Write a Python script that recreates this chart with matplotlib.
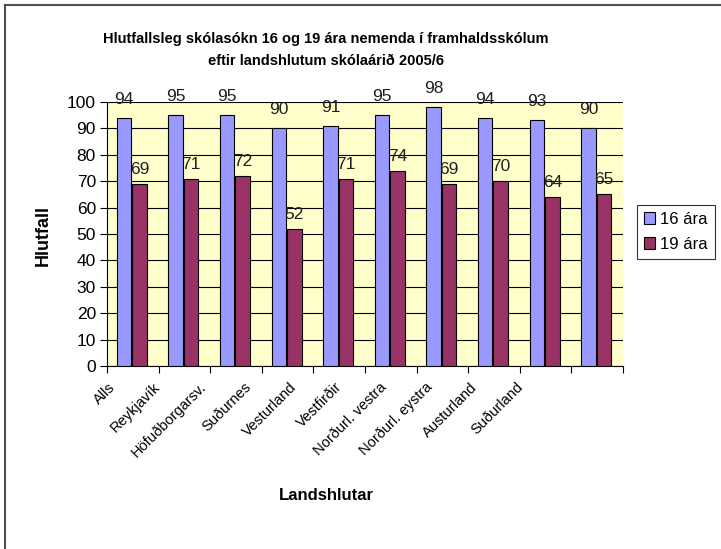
import numpy as np
import matplotlib
matplotlib.use("Agg")
import matplotlib.pyplot as plt
import matplotlib.transforms as mtransforms
from matplotlib.lines import Line2D

regions = ["Alls", "Reykjavík", "Höfuðborgarsv.", "Suðurnes", "Vesturland",
           "Vestfirðir", "Norðurl. vestra", "Norðurl. eystra", "Austurland", "Suðurland"]
age16 = [94, 95, 95, 90, 91, 95, 98, 94, 93, 90]
age19 = [69, 71, 72, 52, 71, 74, 69, 70, 64, 65]
series_names = ["16 ára", "19 ára"]
y_ticks = list(range(0, 101, 10))

plt.rcParams['font.family'] = ['Liberation Sans', 'DejaVu Sans']
narrow = ['Liberation Sans Narrow', 'Liberation Sans']

W, H = 721, 549
fig = plt.figure(figsize=(W / 100, H / 100), dpi=100)
fig.patch.set_facecolor("white")
ax = fig.add_axes([107 / W, 1 - 366 / H, (623 - 107) / W, (366 - 102) / H])
ax.set_facecolor("#FFFFCC")

x = np.arange(len(regions))
w = 0.28
b1 = ax.bar(x - w / 2 - 0.03, age16, w, color="#9999FF", edgecolor="black", linewidth=0.8,
            label=series_names[0], zorder=3)
b2 = ax.bar(x + w / 2 - 0.01, age19, w, color="#993366", edgecolor="black", linewidth=0.8,
            label=series_names[1], zorder=3)

for bars, off in ((b1, 8), (b2, 5)):
    for r in bars:
        ax.annotate(f"{int(r.get_height())}", (r.get_x() + r.get_width() / 2, r.get_height()),
                    xytext=(0, off), textcoords="offset points", ha="center", va="bottom",
                    fontsize=12.5, color="#202020", clip_on=False)

ax.set_xlim(-0.5, len(regions) - 0.5)
ax.set_ylim(0, 100)
ax.set_yticks(y_ticks)
ax.tick_params(axis="y", labelsize=12.5, length=5, width=0.8, pad=3)
ax.yaxis.grid(True, color="black", linewidth=0.8, zorder=1)
ax.set_axisbelow(True)

# ticks between the groups; the rotated labels sit a bit tighter than the groups
ax.set_xticks(np.arange(-0.5, len(regions)), minor=False)
ax.set_xticklabels([])
ax.tick_params(axis="x", length=5, width=0.8)
label_x = 0.21 + 0.878 * x
shift = mtransforms.ScaledTranslation(0, -14 / 100, fig.dpi_scale_trans)
for lx, name in zip(label_x, regions):
    ax.text(lx - 0.5, 0, name, rotation=45, ha="right", va="top", fontsize=10.5,
            transform=ax.get_xaxis_transform() + shift)

for s in ("top", "right"):
    ax.spines[s].set_visible(False)
ax.spines["left"].set_linewidth(0.8)
ax.spines["bottom"].set_linewidth(0.8)

fig.text(326 / W, 1 - 39 / H, "Hlutfallsleg skólasókn 16 og 19 ára nemenda í framhaldsskólum",
         ha="center", va="center", fontsize=10.5, fontweight="bold", family=narrow)
fig.text(326 / W, 1 - 61 / H, "eftir landshlutum skólaárið 2005/6",
         ha="center", va="center", fontsize=10.5, fontweight="bold", family=narrow)
fig.text(43 / W, 1 - 235 / H, "Hlutfall", rotation=90, ha="center", va="center",
         fontsize=13, fontweight="bold", family=narrow)
fig.text(326 / W, 1 - 495 / H, "Landshlutar", ha="center", va="center",
         fontsize=12, fontweight="bold", family=narrow)

leg = fig.legend(handles=[b1, b2], labels=series_names, loc="center left",
                 bbox_to_anchor=(637 / W, 1 - 232 / H), fontsize=12, frameon=True,
                 fancybox=False, edgecolor="black", handlelength=0.7, handleheight=0.7,
                 handletextpad=0.3, borderpad=0.4, labelspacing=0.6, borderaxespad=0)
leg.get_frame().set_linewidth(0.8)

# outer chart border (only top and left visible in the reference)
fig.add_artist(Line2D([5 / W, 5 / W], [0, 1 - 5 / H], color="#505050", linewidth=1.5))
fig.add_artist(Line2D([5 / W, 1], [1 - 5 / H, 1 - 5 / H], color="#505050", linewidth=1.5))

fig.savefig("out.png", dpi=100)
